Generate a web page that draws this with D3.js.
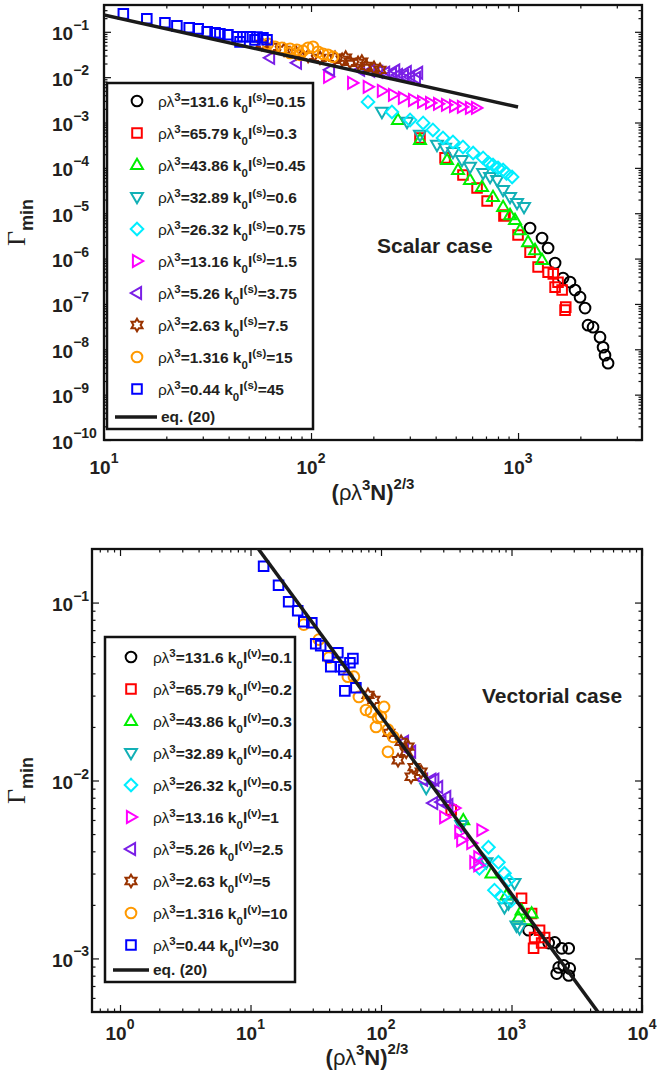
<!DOCTYPE html>
<html>
<head>
<meta charset="utf-8">
<script src="https://cdn.jsdelivr.net/npm/d3@7"></script>
<style>
  body { margin: 0; background: #fff; }
  svg { display: block; }
  text { font-family: "Liberation Sans", Arial, Helvetica, sans-serif; fill: #231f20; }
</style>
</head>
<body>
<svg id="fig" width="657" height="1079"></svg>
<script>
// ---------- legend labels ----------
const rhoLambda3 = ["131.6", "65.79", "43.86", "32.89", "26.32", "13.16", "5.26", "2.63", "1.316", "0.44"];
const k0lScalar  = ["0.15", "0.3", "0.45", "0.6", "0.75", "1.5", "3.75", "7.5", "15", "45"];
const k0lVector  = ["0.1", "0.2", "0.3", "0.4", "0.5", "1", "2.5", "5", "10", "30"];

// ---------- tick values ----------
const xTicksScalar = [10, 100, 1000];
const yTicksScalar = [1e-10, 1e-9, 1e-8, 1e-7, 1e-6, 1e-5, 1e-4, 1e-3, 1e-2, 1e-1];
const xTicksVector = [1, 10, 100, 1000, 10000];
const yTicksVector = [1e-3, 1e-2, 1e-1];

// ---------- scalar case: [(rho lambda^3 N)^(2/3), Gamma_min] ----------
const scalarRho131_6 = [[1143,4.71e-6],[1306,2.84e-6],[1397,1.71e-6],[1510,7.96e-7],[1650,3.72e-7],[1782,3.03e-7],[1884,2.02e-7],[1993,1.41e-7],[2107,8.1e-8],[2178,3.4e-8],[2303,3.07e-8],[2489,1.85e-8],[2574,1.11e-8],[2631,7.4e-9],[2722,4.93e-9]];
const scalarRho65_79 = [[336,4.57e-4],[444,1.66e-4],[542,6.97e-5],[634,3.6e-5],[709,1.86e-5],[855,8.67e-6],[865,9.1e-6],[1000,3.3e-6],[1143,1.39e-6],[1250,6.5e-7],[1397,5.0e-7],[1480,4.6e-7],[1510,2.35e-7],[1560,3.0e-7],[1633,2.02e-7],[1687,7.3e-8],[1700,8.5e-8]];
const scalarRho43_86 = [[263,1.14e-3],[336,4.13e-4],[454,1.49e-4],[513,9.0e-5],[586,5.4e-5],[670,3.79e-5],[757,2.28e-5],[847,1.37e-5],[915,9.1e-6],[967,7.1e-6],[1023,4.26e-6],[1118,2.31e-6],[1208,1.54e-6],[1306,9.3e-7]];
const scalarRho32_89 = [[220,1.71e-3],[291,1.03e-3],[336,5.32e-4],[406,3.21e-4],[444,2.75e-4],[485,2.24e-4],[536,1.49e-4],[586,1.05e-4],[678,7.7e-5],[733,6.3e-5],[793,5.4e-5],[847,3.25e-5],[915,2.28e-5],[989,1.68e-5],[1069,1.37e-5]];
const scalarRho26_32 = [[188.5,2.85e-3],[246,1.71e-3],[301,1.14e-3],[348,9.8e-4],[388,6.87e-4],[434,4.57e-4],[485,3.73e-4],[542,2.89e-4],[607,2.13e-4],[678,1.66e-4],[720,1.3e-4],[757,1.16e-4],[800,1.0e-4],[847,9.0e-5],[880,7.5e-5],[936,6.3e-5]];
const scalarRho13_16 = [[121,1.02e-2],[158,7.48e-3],[188,6.11e-3],[220,4.99e-3],[249,4.07e-3],[278,3.49e-3],[311,3.15e-3],[344,2.85e-3],[376,2.71e-3],[411,2.58e-3],[449,2.45e-3],[491,2.32e-3],[536,2.21e-3],[586,2.10e-3],[627,2.10e-3]];
const scalarRho5_26  = [[63.4,2.67e-2],[85.5,2.07e-2],[123.5,1.45e-2],[172.5,1.45e-2],[193,1.38e-2],[211,1.31e-2],[228,1.25e-2],[246,1.18e-2],[263,1.12e-2],[281,1.07e-2],[301,1.02e-2],[321,9.66e-3],[329,1.25e-2],[290,1.3e-2],[255,1.4e-2]];
const scalarRho2_63  = [[57.9,5.43e-2],[64.8,4.67e-2],[74.1,4.01e-2],[84.7,3.43e-2],[96.8,2.95e-2],[110.5,2.67e-2],[130.6,2.67e-2],[141.3,2.41e-2],[154.3,2.18e-2],[168.7,2.07e-2],[184.5,1.78e-2],[201.5,1.60e-2],[215.4,1.45e-2],[147,2.7e-2],[176,2.2e-2]];
const scalarRho1_316 = [[61.9,5.43e-2],[67.0,4.67e-2],[72.4,4.43e-2],[79.2,4.21e-2],[85.5,4.01e-2],[91.4,3.81e-2],[96.8,4.43e-2],[102.3,4.67e-2],[108.1,3.62e-2],[114.3,3.27e-2],[120.8,3.11e-2],[127.7,2.81e-2],[88.5,3.11e-2],[79.2,3.43e-2]];
const scalarRho0_44  = [[12.4,0.249],[16.1,0.194],[19.7,0.158],[22.5,0.135],[25.8,0.123],[28.5,0.116],[31.5,0.100],[34.4,0.095],[36.3,0.090],[39.7,0.086],[43.9,0.078],[45.4,0.060],[46.9,0.078],[50.7,0.078],[53.6,0.0665],[54.8,0.077],[58.6,0.074],[61.3,0.067]];
const eq20Scalar = [[10, 0.235], [1000, 0.0022]];

// ---------- vectorial case ----------
const vectorRho131_6 = [[1352,1.44e-3],[1927,1.22e-3],[2143,1.23e-3],[2425,1.14e-3],[2744,1.14e-3],[2300,8.9e-4],[2512,9.13e-4],[2793,8.79e-4],[2744,8.02e-4],[2219,8.22e-4]];
const vectorRho65_79 = [[345,6.82e-3],[1194,2.18e-3],[1426,1.79e-3],[1503,1.31e-3],[1641,1.44e-3],[1476,1.14e-3],[1702,1.22e-3],[1794,1.31e-3]];
const vectorRho43_86 = [[427,5.98e-3],[702,3.01e-3],[915,2.26e-3],[1132,1.70e-3],[1194,1.86e-3],[1304,1.64e-3],[1426,1.79e-3]];
const vectorRho32_89 = [[222,9.08e-3],[412,5.61e-3],[642,3.47e-3],[1054,2.65e-3],[948,2.04e-3],[1092,1.53e-3],[883,1.94e-3],[1153,1.48e-3]];
const vectorRho26_32 = [[666,4.22e-3],[609,3.56e-3],[794,3.47e-3],[883,3.01e-3],[740,2.42e-3],[948,2.75e-3],[838,2.21e-3],[1000,2.12e-3],[568,3.21e-3]];
const vectorRho13_16 = [[305,6.22e-3],[398,5.13e-3],[588,5.26e-3],[412,4.62e-3],[492,4.45e-3],[519,3.47e-3],[557,3.34e-3],[365,7.00e-3],[557,3.70e-3]];
const vectorRho5_26  = [[150,1.65e-2],[170,1.45e-2],[243,1.01e-2],[274,9.19e-3],[316,8.07e-3],[290,7.56e-3],[251,7.47e-3],[328,7.28e-3],[210,1.01e-2],[256,1.01e-2]];
const vectorRho2_63  = [[79.4,3.03e-2],[88.3,2.84e-2],[115,1.85e-2],[142.5,1.65e-2],[161,1.55e-2],[135,1.30e-2],[179,1.19e-2],[203,1.12e-2],[170,1.05e-2],[156,1.45e-2]];
const vectorRho1_316 = [[25.6,7.52e-2],[33.4,6.19e-2],[39.8,4.90e-2],[55.7,3.83e-2],[62.0,3.83e-2],[67.7,2.95e-2],[76.7,2.49e-2],[83.8,2.43e-2],[105.5,2.59e-2],[94.8,2.25e-2],[91.6,2.00e-2],[113,1.93e-2],[124,1.76e-2],[113,1.45e-2],[100,2.28e-2]];
const vectorRho0_44  = [[12.6,0.160],[16.4,0.125],[19.6,0.101],[23.0,0.090],[25.6,0.078],[29.5,0.077],[31.6,0.0587],[34.5,0.0573],[39.1,0.0503],[46.7,0.0522],[41.2,0.0436],[49.2,0.0436],[57.8,0.0459],[60.9,0.0484],[52.8,0.0319],[64.2,0.0332],[51.9,0.0420]];
const eq20Vector = [[10, 0.23], [10000, 2.3e-4]];

// ---------- marker styles, one per rho*lambda^3 ----------
const markerStyles = [
  { shape: "circle",   color: "#000000" },
  { shape: "square",   color: "#ff0000" },
  { shape: "triUp",    color: "#00ee00" },
  { shape: "triDown",  color: "#12b0b6" },
  { shape: "diamond",  color: "#00eeff" },
  { shape: "triRight", color: "#ff00ff" },
  { shape: "triLeft",  color: "#7a1fe6" },
  { shape: "hexagram", color: "#993300" },
  { shape: "circle",   color: "#ff9900" },
  { shape: "square",   color: "#0000ff" }
];

function markerPath(shape, s) {
  const p = d3.path();
  const poly = pts => { pts.forEach((q, i) => i ? p.lineTo(q[0], q[1]) : p.moveTo(q[0], q[1])); p.closePath(); };
  switch (shape) {
    case "circle": p.moveTo(s * 0.85, 0); p.arc(0, 0, s * 0.85, 0, 2 * Math.PI); p.closePath(); break;
    case "square": { const h = s * 0.76; p.rect(-h, -h, 2 * h, 2 * h); break; }
    case "triUp":    poly([[0, -s], [s * 0.95, s * 0.65], [-s * 0.95, s * 0.65]]); break;
    case "triDown":  poly([[0, s], [s * 0.95, -s * 0.65], [-s * 0.95, -s * 0.65]]); break;
    case "triRight": poly([[s, 0], [-s * 0.65, -s * 0.95], [-s * 0.65, s * 0.95]]); break;
    case "triLeft":  poly([[-s, 0], [s * 0.65, -s * 0.95], [s * 0.65, s * 0.95]]); break;
    case "diamond":  poly([[0, -s], [s, 0], [0, s], [-s, 0]]); break;
    case "hexagram": {
      const pts = [];
      for (let i = 0; i < 12; i++) {
        const r = i % 2 ? s * 0.577 : s;
        const a = -Math.PI / 2 + i * Math.PI / 6;
        pts.push([r * Math.cos(a), r * Math.sin(a)]);
      }
      poly(pts);
      break;
    }
  }
  return p.toString();
}

function minorTicks(domain) {
  const out = [];
  const lo = Math.floor(Math.log10(domain[0])), hi = Math.ceil(Math.log10(domain[1]));
  for (let e = lo; e <= hi; e++)
    for (let m = 2; m <= 9; m++) {
      const v = m * Math.pow(10, e);
      if (v > domain[0] && v < domain[1]) out.push(v);
    }
  return out;
}

const expText = v => { const e = Math.round(Math.log10(v)); return e < 0 ? "\u2212" + (-e) : String(e); };

const svg = d3.select("#fig");

const panels = [
  {
    series: [scalarRho131_6, scalarRho65_79, scalarRho43_86, scalarRho32_89, scalarRho26_32,
             scalarRho13_16, scalarRho5_26, scalarRho2_63, scalarRho1_316, scalarRho0_44],
    k0l: k0lScalar, pol: "s", eq: eq20Scalar,
    box: { l: 104, t: 5, r: 642, b: 440 },
    xDomain: [10, 3970], yDomain: [1e-10, 0.39],
    xMajor: xTicksScalar, yMajor: yTicksScalar,
    xLabelY: 474, xTitleY: 500,
    legend: { l: 107, t: 83, r: 313, b: 429, row0: 101, step: 32, mx: 137, tx: 158, eqY: 417, lx0: 115, lx1: 157 },
    tag: { text: "Scalar case", x: 377, y: 253 },
    clip: "clipScalar"
  },
  {
    series: [vectorRho131_6, vectorRho65_79, vectorRho43_86, vectorRho32_89, vectorRho26_32,
             vectorRho13_16, vectorRho5_26, vectorRho2_63, vectorRho1_316, vectorRho0_44],
    k0l: k0lVector, pol: "v", eq: eq20Vector,
    box: { l: 92, t: 549, r: 642, b: 1012 },
    xDomain: [0.61, 10000], yDomain: [5e-4, 0.2],
    xMajor: xTicksVector, yMajor: yTicksVector,
    xLabelY: 1040, xTitleY: 1065,
    legend: { l: 105, t: 637, r: 295, b: 982, row0: 657, step: 32, mx: 131, tx: 153, eqY: 970, lx0: 113, lx1: 149 },
    tag: { text: "Vectorial case", x: 482, y: 703 },
    clip: "clipVector"
  }
];

panels.forEach(P => {
  const { l, t, r, b } = P.box;
  const x = d3.scaleLog().domain(P.xDomain).range([l, r]);
  const y = d3.scaleLog().domain(P.yDomain).range([b, t]);
  const g = svg.append("g");

  svg.append("clipPath").attr("id", P.clip)
    .append("rect").attr("x", l).attr("y", t).attr("width", r - l).attr("height", b - t);

  // inward ticks on all four sides
  const xMinor = minorTicks(P.xDomain), yMinor = minorTicks(P.yDomain);
  const tickSets = [
    [d3.axisBottom, x, `translate(0,${b})`, P.xMajor, xMinor],
    [d3.axisTop,    x, `translate(0,${t})`, P.xMajor, xMinor],
    [d3.axisLeft,   y, `translate(${l},0)`, P.yMajor, yMinor],
    [d3.axisRight,  y, `translate(${r},0)`, P.yMajor, yMinor]
  ];
  tickSets.forEach(([ax, sc, tr, major, minor]) => {
    [[major, 7], [minor, 3.5]].forEach(([vals, len]) => {
      g.append("g").attr("transform", tr)
        .call(ax(sc).tickValues(vals).tickSize(-len).tickFormat(""))
        .call(s => s.select(".domain").remove())
        .call(s => s.selectAll("line").attr("stroke", "#111").attr("stroke-width", 1.2));
    });
  });

  // frame
  g.append("rect").attr("x", l).attr("y", t).attr("width", r - l).attr("height", b - t)
    .attr("fill", "none").attr("stroke", "#111").attr("stroke-width", 2.3);

  // tick labels
  P.xMajor.forEach(v => {
    const tx = g.append("text").attr("x", x(v)).attr("y", P.xLabelY)
      .attr("text-anchor", "middle").attr("font-weight", "bold");
    tx.append("tspan").attr("font-size", 19).text("10");
    tx.append("tspan").attr("font-size", 14).attr("dy", -11).text(expText(v));
  });
  P.yMajor.forEach(v => {
    const ty = g.append("text").attr("x", 52).attr("y", y(v) + 8.5).attr("font-weight", "bold");
    ty.append("tspan").attr("font-size", 19).text("10");
    ty.append("tspan").attr("font-size", 14).attr("dy", -10.5).text(expText(v));
  });

  // axis titles
  const xt = g.append("text").attr("x", (l + r) / 2).attr("y", P.xTitleY)
    .attr("text-anchor", "middle").attr("font-weight", "bold").attr("font-size", 22);
  xt.append("tspan").text("(");
  xt.append("tspan").attr("font-weight", "normal").text("ρλ");
  xt.append("tspan").attr("font-size", 15).attr("dy", -10).text("3");
  xt.append("tspan").attr("dy", 10).text("N)");
  xt.append("tspan").attr("font-size", 15).attr("dy", -11).text("2/3");

  const yt = g.append("text").attr("transform", `translate(25,${(t + b) / 2}) rotate(-90)`)
    .attr("text-anchor", "middle");
  yt.append("tspan").attr("font-family", "'Liberation Serif', 'Times New Roman', serif").attr("font-size", 26).text("Γ");
  yt.append("tspan").attr("font-size", 18).attr("font-weight", "bold").attr("dy", 8).text("min");

  // data markers
  P.series.forEach((pts, i) => {
    const st = markerStyles[i];
    g.append("g").selectAll("path").data(pts).join("path")
      .attr("transform", d => `translate(${x(d[0])},${y(d[1])})`)
      .attr("d", markerPath(st.shape, 6.3))
      .attr("fill", "none").attr("stroke", st.color).attr("stroke-width", 2);
  });

  // eq. (20)
  g.append("path").datum(P.eq)
    .attr("clip-path", `url(#${P.clip})`)
    .attr("d", d3.line().x(d => x(d[0])).y(d => y(d[1])))
    .attr("fill", "none").attr("stroke", "#1a1a1a").attr("stroke-width", 3.5);

  // case tag
  g.append("text").attr("x", P.tag.x).attr("y", P.tag.y)
    .attr("font-weight", "bold").attr("font-size", 21).text(P.tag.text);

  // legend
  const L = P.legend;
  const lg = g.append("g");
  lg.append("rect").attr("x", L.l).attr("y", L.t).attr("width", L.r - L.l).attr("height", L.b - L.t)
    .attr("fill", "#fff").attr("stroke", "#111").attr("stroke-width", 2.5);
  rhoLambda3.forEach((rho, i) => {
    const cy = L.row0 + i * L.step;
    const st = markerStyles[i];
    lg.append("path").attr("transform", `translate(${L.mx},${cy})`)
      .attr("d", markerPath(st.shape, 6.3))
      .attr("fill", "none").attr("stroke", st.color).attr("stroke-width", 2);
    const tx = lg.append("text").attr("x", L.tx).attr("y", cy + 5.5)
      .attr("font-weight", "bold").attr("font-size", 15.5);
    tx.append("tspan").attr("font-weight", "normal").text("ρλ");
    tx.append("tspan").attr("font-size", 11.5).attr("dy", -6).text("3");
    tx.append("tspan").attr("dy", 6).text(`=${rho} k`);
    tx.append("tspan").attr("font-size", 11.5).attr("dy", 6).text("0");
    tx.append("tspan").attr("dy", -6).text("l");
    tx.append("tspan").attr("font-size", 11.5).attr("dy", -6).text(`(${P.pol})`);
    tx.append("tspan").attr("dy", 6).text(`=${P.k0l[i]}`);
  });
  lg.append("line").attr("x1", L.lx0).attr("x2", L.lx1).attr("y1", L.eqY).attr("y2", L.eqY)
    .attr("stroke", "#1a1a1a").attr("stroke-width", 3.5);
  lg.append("text").attr("x", L.lx1 + 4).attr("y", L.eqY + 5)
    .attr("font-weight", "bold").attr("font-size", 15.5).text("eq. (20)");
});
</script>
</body>
</html>
